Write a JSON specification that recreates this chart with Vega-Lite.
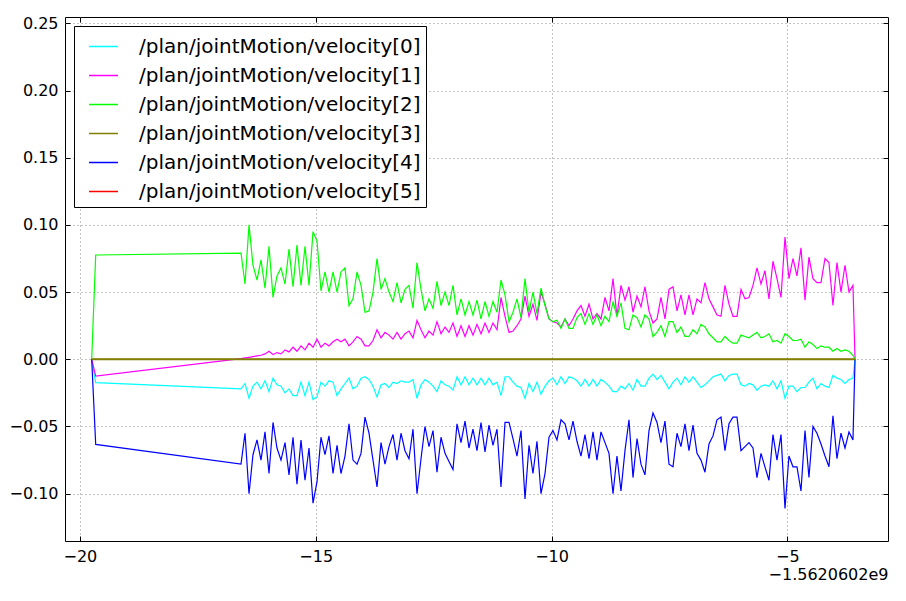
{
  "$schema": "https://vega.github.io/schema/vega-lite/v6.json",
  "width": 823,
  "height": 524,
  "autosize": {"type": "none"},
  "padding": {"left": 65, "top": 17, "right": 18, "bottom": 60},
  "background": "white",
  "config": {
    "view": {"stroke": "#000", "strokeWidth": 1},
    "font": "DejaVu Sans",
    "axis": {
      "labelFont": "DejaVu Sans",
      "labelFontSize": 16,
      "labelColor": "#000",
      "domain": false,
      "tickColor": "#000",
      "tickSize": -5,
      "tickWidth": 1,
      "labelPadding": 12,
      "gridColor": "#888",
      "gridDash": [1, 3],
      "gridWidth": 1,
      "titleFont": "DejaVu Sans",
      "titleColor": "#000"
    },
    "legend": {
      "labelFont": "DejaVu Sans",
      "labelFontSize": 20,
      "labelColor": "#000",
      "strokeColor": "#000",
      "fillColor": "#fff",
      "cornerRadius": 0,
      "padding": 5,
      "rowPadding": 3,
      "symbolType": "stroke",
      "symbolSize": 841,
      "symbolStrokeWidth": 1.5,
      "symbolOffset": 9,
      "labelOffset": 20,
      "labelLimit": 0
    }
  },
  "data": {
    "values": [
      {"t": -19.75, "v0": 0, "v1": 0, "v2": 0, "v3": 0, "v4": 0, "v5": 0},
      {"t": -19.665, "v0": -0.0174, "v1": -0.0125, "v2": 0.0776, "v4": -0.0633},
      {"t": -16.584, "v0": -0.022, "v1": 0.0005, "v2": 0.079, "v4": -0.078},
      {"t": -16.499, "v0": -0.018, "v1": 0.001, "v2": 0.056, "v4": -0.055},
      {"t": -16.414, "v0": -0.029, "v1": 0.0015, "v2": 0.1, "v4": -0.1},
      {"t": -16.33, "v0": -0.02, "v1": 0.002, "v2": 0.07, "v4": -0.071},
      {"t": -16.245, "v0": -0.017, "v1": 0.0025, "v2": 0.059, "v4": -0.06},
      {"t": -16.16, "v0": -0.022, "v1": 0.003, "v2": 0.074, "v4": -0.075},
      {"t": -16.075, "v0": -0.016, "v1": 0.004, "v2": 0.053, "v4": -0.054},
      {"t": -15.99, "v0": -0.024, "v1": 0.006, "v2": 0.084, "v4": -0.085},
      {"t": -15.905, "v0": -0.014, "v1": 0.0035, "v2": 0.046, "v4": -0.047},
      {"t": -15.821, "v0": -0.019, "v1": 0.005, "v2": 0.062, "v4": -0.066},
      {"t": -15.736, "v0": -0.02, "v1": 0.004, "v2": 0.068, "v4": -0.075},
      {"t": -15.651, "v0": -0.025, "v1": 0.007, "v2": 0.056, "v4": -0.062},
      {"t": -15.566, "v0": -0.022, "v1": 0.0055, "v2": 0.082, "v4": -0.086},
      {"t": -15.481, "v0": -0.027, "v1": 0.009, "v2": 0.054, "v4": -0.058},
      {"t": -15.397, "v0": -0.027, "v1": 0.006, "v2": 0.085, "v4": -0.093},
      {"t": -15.312, "v0": -0.017, "v1": 0.01, "v2": 0.055, "v4": -0.06},
      {"t": -15.227, "v0": -0.027, "v1": 0.007, "v2": 0.084, "v4": -0.09},
      {"t": -15.142, "v0": -0.017, "v1": 0.012, "v2": 0.055, "v4": -0.066},
      {"t": -15.057, "v0": -0.03, "v1": 0.009, "v2": 0.095, "v4": -0.107},
      {"t": -14.972, "v0": -0.028, "v1": 0.015, "v2": 0.088, "v4": -0.091},
      {"t": -14.888, "v0": -0.017, "v1": 0.009, "v2": 0.051, "v4": -0.058},
      {"t": -14.803, "v0": -0.02, "v1": 0.012, "v2": 0.065, "v4": -0.071},
      {"t": -14.718, "v0": -0.016, "v1": 0.01, "v2": 0.05, "v4": -0.057},
      {"t": -14.633, "v0": -0.017, "v1": 0.013, "v2": 0.065, "v4": -0.085},
      {"t": -14.548, "v0": -0.027, "v1": 0.015, "v2": 0.05, "v4": -0.064},
      {"t": -14.464, "v0": -0.022, "v1": 0.013, "v2": 0.065, "v4": -0.085},
      {"t": -14.379, "v0": -0.018, "v1": 0.015, "v2": 0.068, "v4": -0.072},
      {"t": -14.294, "v0": -0.014, "v1": 0.01, "v2": 0.04, "v4": -0.048},
      {"t": -14.209, "v0": -0.022, "v1": 0.013, "v2": 0.045, "v4": -0.075},
      {"t": -14.124, "v0": -0.02, "v1": 0.017, "v2": 0.065, "v4": -0.078},
      {"t": -14.039, "v0": -0.014, "v1": 0.015, "v2": 0.055, "v4": -0.07},
      {"t": -13.955, "v0": -0.013, "v1": 0.01, "v2": 0.035, "v4": -0.043},
      {"t": -13.87, "v0": -0.015, "v1": 0.01, "v2": 0.036, "v4": -0.055},
      {"t": -13.785, "v0": -0.02, "v1": 0.014, "v2": 0.05, "v4": -0.075},
      {"t": -13.7, "v0": -0.028, "v1": 0.022, "v2": 0.075, "v4": -0.095},
      {"t": -13.615, "v0": -0.019, "v1": 0.016, "v2": 0.052, "v4": -0.062},
      {"t": -13.531, "v0": -0.018, "v1": 0.02, "v2": 0.06, "v4": -0.078},
      {"t": -13.446, "v0": -0.021, "v1": 0.018, "v2": 0.05, "v4": -0.065},
      {"t": -13.361, "v0": -0.017, "v1": 0.015, "v2": 0.043, "v4": -0.056},
      {"t": -13.276, "v0": -0.018, "v1": 0.02, "v2": 0.057, "v4": -0.075},
      {"t": -13.191, "v0": -0.016, "v1": 0.015, "v2": 0.042, "v4": -0.055},
      {"t": -13.107, "v0": -0.017, "v1": 0.019, "v2": 0.052, "v4": -0.068},
      {"t": -13.022, "v0": -0.017, "v1": 0.021, "v2": 0.055, "v4": -0.074},
      {"t": -12.937, "v0": -0.015, "v1": 0.016, "v2": 0.038, "v4": -0.052},
      {"t": -12.852, "v0": -0.029, "v1": 0.029, "v2": 0.072, "v4": -0.1},
      {"t": -12.767, "v0": -0.019, "v1": 0.022, "v2": 0.052, "v4": -0.074},
      {"t": -12.683, "v0": -0.015, "v1": 0.016, "v2": 0.036, "v4": -0.05},
      {"t": -12.598, "v0": -0.017, "v1": 0.021, "v2": 0.045, "v4": -0.065},
      {"t": -12.513, "v0": -0.02, "v1": 0.018, "v2": 0.038, "v4": -0.053},
      {"t": -12.428, "v0": -0.024, "v1": 0.028, "v2": 0.058, "v4": -0.084},
      {"t": -12.343, "v0": -0.016, "v1": 0.019, "v2": 0.04, "v4": -0.058},
      {"t": -12.258, "v0": -0.019, "v1": 0.024, "v2": 0.05, "v4": -0.07},
      {"t": -12.174, "v0": -0.02, "v1": 0.02, "v2": 0.04, "v4": -0.076},
      {"t": -12.089, "v0": -0.023, "v1": 0.027, "v2": 0.055, "v4": -0.082},
      {"t": -12.004, "v0": -0.013, "v1": 0.017, "v2": 0.033, "v4": -0.048},
      {"t": -11.919, "v0": -0.019, "v1": 0.025, "v2": 0.045, "v4": -0.062},
      {"t": -11.834, "v0": -0.013, "v1": 0.017, "v2": 0.033, "v4": -0.046},
      {"t": -11.75, "v0": -0.019, "v1": 0.025, "v2": 0.043, "v4": -0.066},
      {"t": -11.665, "v0": -0.014, "v1": 0.018, "v2": 0.033, "v4": -0.052},
      {"t": -11.58, "v0": -0.019, "v1": 0.026, "v2": 0.044, "v4": -0.068},
      {"t": -11.495, "v0": -0.014, "v1": 0.019, "v2": 0.03, "v4": -0.047},
      {"t": -11.41, "v0": -0.019, "v1": 0.027, "v2": 0.043, "v4": -0.069},
      {"t": -11.326, "v0": -0.014, "v1": 0.02, "v2": 0.032, "v4": -0.049},
      {"t": -11.241, "v0": -0.019, "v1": 0.027, "v2": 0.043, "v4": -0.064},
      {"t": -11.156, "v0": -0.017, "v1": 0.022, "v2": 0.035, "v4": -0.052},
      {"t": -11.071, "v0": -0.027, "v1": 0.046, "v2": 0.059, "v4": -0.095},
      {"t": -10.986, "v0": -0.013, "v1": 0.032, "v2": 0.048, "v4": -0.047},
      {"t": -10.901, "v0": -0.013, "v1": 0.02, "v2": 0.028, "v4": -0.047},
      {"t": -10.817, "v0": -0.017, "v1": 0.021, "v2": 0.035, "v4": -0.059},
      {"t": -10.732, "v0": -0.02, "v1": 0.025, "v2": 0.045, "v4": -0.072},
      {"t": -10.647, "v0": -0.021, "v1": 0.03, "v2": 0.031, "v4": -0.053},
      {"t": -10.562, "v0": -0.029, "v1": 0.047, "v2": 0.06, "v4": -0.104},
      {"t": -10.477, "v0": -0.018, "v1": 0.032, "v2": 0.035, "v4": -0.064},
      {"t": -10.393, "v0": -0.024, "v1": 0.041, "v2": 0.05, "v4": -0.085},
      {"t": -10.308, "v0": -0.017, "v1": 0.029, "v2": 0.034, "v4": -0.061},
      {"t": -10.223, "v0": -0.026, "v1": 0.05, "v2": 0.053, "v4": -0.1},
      {"t": -10.138, "v0": -0.02, "v1": 0.041, "v2": 0.04, "v4": -0.085},
      {"t": -10.053, "v0": -0.016, "v1": 0.03, "v2": 0.03, "v4": -0.058},
      {"t": -9.969, "v0": -0.014, "v1": 0.028, "v2": 0.028, "v4": -0.053},
      {"t": -9.884, "v0": -0.019, "v1": 0.027, "v2": 0.029, "v4": -0.06},
      {"t": -9.799, "v0": -0.013, "v1": 0.024, "v2": 0.023, "v4": -0.045},
      {"t": -9.714, "v0": -0.018, "v1": 0.03, "v2": 0.03, "v4": -0.048},
      {"t": -9.629, "v0": -0.013, "v1": 0.025, "v2": 0.023, "v4": -0.06},
      {"t": -9.544, "v0": -0.014, "v1": 0.03, "v2": 0.023, "v4": -0.046},
      {"t": -9.46, "v0": -0.016, "v1": 0.036, "v2": 0.031, "v4": -0.061},
      {"t": -9.375, "v0": -0.02, "v1": 0.04, "v2": 0.034, "v4": -0.072},
      {"t": -9.29, "v0": -0.015, "v1": 0.032, "v2": 0.026, "v4": -0.056},
      {"t": -9.205, "v0": -0.02, "v1": 0.041, "v2": 0.034, "v4": -0.074},
      {"t": -9.12, "v0": -0.015, "v1": 0.03, "v2": 0.026, "v4": -0.054},
      {"t": -9.036, "v0": -0.02, "v1": 0.034, "v2": 0.033, "v4": -0.075},
      {"t": -8.951, "v0": -0.015, "v1": 0.03, "v2": 0.025, "v4": -0.054},
      {"t": -8.866, "v0": -0.017, "v1": 0.046, "v2": 0.032, "v4": -0.062},
      {"t": -8.781, "v0": -0.02, "v1": 0.036, "v2": 0.028, "v4": -0.07},
      {"t": -8.696, "v0": -0.024, "v1": 0.06, "v2": 0.043, "v4": -0.1},
      {"t": -8.612, "v0": -0.024, "v1": 0.032, "v2": 0.032, "v4": -0.072},
      {"t": -8.527, "v0": -0.02, "v1": 0.055, "v2": 0.042, "v4": -0.098},
      {"t": -8.442, "v0": -0.022, "v1": 0.044, "v2": 0.023, "v4": -0.068},
      {"t": -8.357, "v0": -0.018, "v1": 0.054, "v2": 0.022, "v4": -0.045},
      {"t": -8.272, "v0": -0.023, "v1": 0.035, "v2": 0.033, "v4": -0.088},
      {"t": -8.187, "v0": -0.015, "v1": 0.047, "v2": 0.031, "v4": -0.059},
      {"t": -8.103, "v0": -0.02, "v1": 0.039, "v2": 0.024, "v4": -0.078},
      {"t": -8.018, "v0": -0.02, "v1": 0.054, "v2": 0.033, "v4": -0.086},
      {"t": -7.933, "v0": -0.014, "v1": 0.036, "v2": 0.03, "v4": -0.053},
      {"t": -7.848, "v0": -0.011, "v1": 0.027, "v2": 0.017, "v4": -0.04},
      {"t": -7.763, "v0": -0.015, "v1": 0.03, "v2": 0.02, "v4": -0.047},
      {"t": -7.679, "v0": -0.012, "v1": 0.046, "v2": 0.025, "v4": -0.062},
      {"t": -7.594, "v0": -0.017, "v1": 0.03, "v2": 0.017, "v4": -0.046},
      {"t": -7.509, "v0": -0.022, "v1": 0.052, "v2": 0.028, "v4": -0.078},
      {"t": -7.424, "v0": -0.017, "v1": 0.054, "v2": 0.028, "v4": -0.08},
      {"t": -7.339, "v0": -0.014, "v1": 0.036, "v2": 0.02, "v4": -0.055},
      {"t": -7.255, "v0": -0.019, "v1": 0.048, "v2": 0.024, "v4": -0.065},
      {"t": -7.17, "v0": -0.013, "v1": 0.033, "v2": 0.017, "v4": -0.048},
      {"t": -7.085, "v0": -0.017, "v1": 0.048, "v2": 0.017, "v4": -0.068},
      {"t": -7.0, "v0": -0.013, "v1": 0.033, "v2": 0.022, "v4": -0.049},
      {"t": -6.915, "v0": -0.017, "v1": 0.045, "v2": 0.019, "v4": -0.07},
      {"t": -6.831, "v0": -0.021, "v1": 0.042, "v2": 0.026, "v4": -0.075},
      {"t": -6.746, "v0": -0.019, "v1": 0.057, "v2": 0.024, "v4": -0.084},
      {"t": -6.661, "v0": -0.016, "v1": 0.045, "v2": 0.019, "v4": -0.063},
      {"t": -6.576, "v0": -0.013, "v1": 0.039, "v2": 0.016, "v4": -0.057},
      {"t": -6.491, "v0": -0.012, "v1": 0.033, "v2": 0.013, "v4": -0.045},
      {"t": -6.406, "v0": -0.011, "v1": 0.032, "v2": 0.013, "v4": -0.043},
      {"t": -6.322, "v0": -0.016, "v1": 0.055, "v2": 0.017, "v4": -0.068},
      {"t": -6.237, "v0": -0.012, "v1": 0.041, "v2": 0.014, "v4": -0.048},
      {"t": -6.152, "v0": -0.011, "v1": 0.032, "v2": 0.012, "v4": -0.043},
      {"t": -6.067, "v0": -0.011, "v1": 0.032, "v2": 0.012, "v4": -0.043},
      {"t": -5.982, "v0": -0.019, "v1": 0.052, "v2": 0.018, "v4": -0.068},
      {"t": -5.898, "v0": -0.02, "v1": 0.045, "v2": 0.017, "v4": -0.065},
      {"t": -5.813, "v0": -0.018, "v1": 0.046, "v2": 0.016, "v4": -0.062},
      {"t": -5.728, "v0": -0.019, "v1": 0.055, "v2": 0.018, "v4": -0.066},
      {"t": -5.643, "v0": -0.023, "v1": 0.068, "v2": 0.02, "v4": -0.088},
      {"t": -5.558, "v0": -0.02, "v1": 0.056, "v2": 0.016, "v4": -0.07},
      {"t": -5.474, "v0": -0.019, "v1": 0.066, "v2": 0.017, "v4": -0.08},
      {"t": -5.389, "v0": -0.02, "v1": 0.045, "v2": 0.019, "v4": -0.09},
      {"t": -5.304, "v0": -0.016, "v1": 0.073, "v2": 0.013, "v4": -0.056},
      {"t": -5.219, "v0": -0.022, "v1": 0.06, "v2": 0.014, "v4": -0.075},
      {"t": -5.134, "v0": -0.016, "v1": 0.046, "v2": 0.012, "v4": -0.056},
      {"t": -5.049, "v0": -0.029, "v1": 0.091, "v2": 0.019, "v4": -0.111},
      {"t": -4.965, "v0": -0.02, "v1": 0.06, "v2": 0.017, "v4": -0.072},
      {"t": -4.88, "v0": -0.02, "v1": 0.075, "v2": 0.014, "v4": -0.08},
      {"t": -4.795, "v0": -0.024, "v1": 0.062, "v2": 0.014, "v4": -0.08},
      {"t": -4.71, "v0": -0.021, "v1": 0.083, "v2": 0.015, "v4": -0.098},
      {"t": -4.625, "v0": -0.021, "v1": 0.044, "v2": 0.009, "v4": -0.053},
      {"t": -4.541, "v0": -0.017, "v1": 0.076, "v2": 0.013, "v4": -0.088},
      {"t": -4.456, "v0": -0.014, "v1": 0.06, "v2": 0.011, "v4": -0.05},
      {"t": -4.371, "v0": -0.022, "v1": 0.057, "v2": 0.008, "v4": -0.055},
      {"t": -4.286, "v0": -0.018, "v1": 0.057, "v2": 0.01, "v4": -0.063},
      {"t": -4.201, "v0": -0.02, "v1": 0.075, "v2": 0.009, "v4": -0.072},
      {"t": -4.117, "v0": -0.021, "v1": 0.072, "v2": 0.009, "v4": -0.08},
      {"t": -4.032, "v0": -0.012, "v1": 0.04, "v2": 0.006, "v4": -0.042},
      {"t": -3.947, "v0": -0.014, "v1": 0.072, "v2": 0.008, "v4": -0.074},
      {"t": -3.862, "v0": -0.015, "v1": 0.05, "v2": 0.006, "v4": -0.055},
      {"t": -3.777, "v0": -0.018, "v1": 0.07, "v2": 0.007, "v4": -0.066},
      {"t": -3.692, "v0": -0.015, "v1": 0.05, "v2": 0.006, "v4": -0.054},
      {"t": -3.608, "v0": -0.014, "v1": 0.055, "v2": 0.003, "v4": -0.06},
      {"t": -3.564, "v0": 0, "v1": 0, "v2": 0, "v3": 0, "v4": 0, "v5": 0}
    ]
  },
  "transform": [
    {"fold": ["v0", "v1", "v2", "v3", "v4", "v5"], "as": ["s", "v"]},
    {"filter": "isValid(datum.v)"}
  ],
  "layer": [
    {
      "transform": [{"filter": "datum.s == 'v5'"}],
      "mark": {"type": "line", "strokeWidth": 1, "clip": true},
      "encoding": {
        "x": {"field": "t", "type": "quantitative", "axis": null},
        "y": {"field": "v", "type": "quantitative", "axis": null},
        "color": {"field": "s", "type": "nominal"}
      }
    },
    {
      "transform": [{"filter": "datum.s != 'v5' && datum.s != 'v3'"}],
      "mark": {"type": "line", "strokeWidth": 1.2, "clip": true},
      "encoding": {
        "x": {
          "field": "t",
          "type": "quantitative",
          "scale": {"domain": [-20.316, -2.865], "nice": false, "zero": false},
          "axis": {
            "orient": "bottom",
            "values": [-20, -15, -10, -5],
            "format": "d",
            "grid": true,
            "title": "−1.5620602e9",
            "titleAnchor": "end",
            "titleAlign": "right",
            "titleFontSize": 16,
            "titleFontWeight": "normal",
            "titlePadding": 2
          }
        },
        "y": {
          "field": "v",
          "type": "quantitative",
          "scale": {"domain": [-0.1352, 0.2547], "nice": false, "zero": false},
          "axis": {
            "orient": "left",
            "values": [-0.1, -0.05, 0, 0.05, 0.1, 0.15, 0.2, 0.25],
            "format": ".2f",
            "grid": true,
            "title": null
          }
        },
        "color": {
          "field": "s",
          "type": "nominal",
          "scale": {
            "domain": ["v0", "v1", "v2", "v3", "v4", "v5"],
            "range": ["#00ffff", "#ff00ff", "#00ff00", "#808000", "#0000ff", "#ff0000"]
          },
          "legend": {
            "title": null,
            "orient": "none",
            "legendX": 9,
            "legendY": 9,
            "labelExpr": "'/plan/jointMotion/velocity[' + substring(datum.label, 1) + ']'"
          }
        }
      }
    },
    {
      "transform": [{"filter": "datum.s == 'v3'"}],
      "mark": {"type": "line", "strokeWidth": 2, "clip": true},
      "encoding": {
        "x": {"field": "t", "type": "quantitative", "axis": null},
        "y": {"field": "v", "type": "quantitative", "axis": null},
        "color": {"field": "s", "type": "nominal"}
      }
    },
    {
      "mark": {"type": "line", "strokeOpacity": 0},
      "encoding": {
        "x": {
          "field": "t",
          "type": "quantitative",
          "axis": {"orient": "top", "labels": false, "grid": false, "values": [-20, -15, -10, -5], "title": null}
        },
        "y": {
          "field": "v",
          "type": "quantitative",
          "axis": {"orient": "right", "labels": false, "grid": false, "values": [-0.1, -0.05, 0, 0.05, 0.1, 0.15, 0.2, 0.25], "title": null}
        },
        "detail": {"field": "s"}
      }
    }
  ],
  "resolve": {"axis": {"x": "independent", "y": "independent"}}
}
